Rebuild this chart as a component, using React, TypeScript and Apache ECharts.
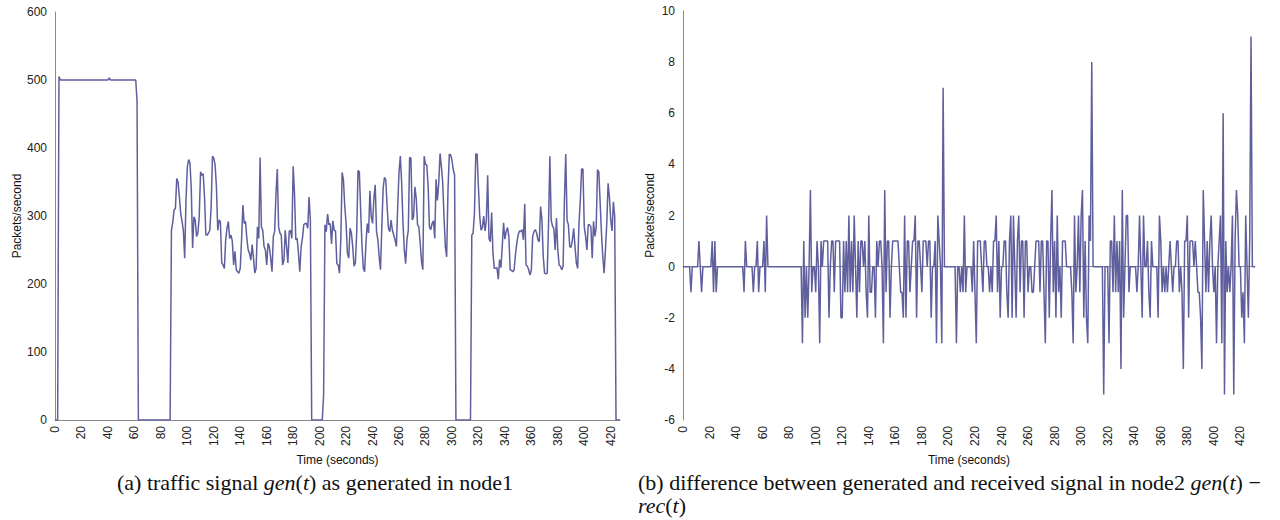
import React, { useEffect, useRef } from "react";
import * as echarts from "echarts";

// ---- (a) traffic signal gen(t), packets/second, one value per second ----
const genPhase1 = [
  0, 0, 0, 505,
  500, 500, 500, 500, 500, 500, 500, 500, 500, 500,
  500, 500, 500, 500, 500, 500, 500, 500, 500, 500,
  500, 500, 500, 500, 500, 500, 500, 500, 500, 500,
  500, 500, 500, 500, 500, 500, 500,
  503,
  500, 500, 500, 500, 500, 500, 500, 500, 500, 500,
  500, 500, 500, 500, 500, 500, 500, 500, 500, 500,
  470,
  0, 0, 0, 0, 0, 0, 0, 0, 0, 0, 0, 0, 0, 0, 0, 0, 0, 0, 0, 0, 0, 0, 0, 0, 0,
];
const genPhase2 = [
  279, 291, 309, 311, 355, 350, 328, 304, 292, 279,
  238, 324, 372, 383, 378, 340, 253, 299, 294, 270,
  275, 299, 365, 360, 362, 328, 272, 272, 275, 279,
  313, 388, 385, 375, 343, 279, 294, 292, 231, 228,
  223, 265, 282, 292, 267, 272, 263, 228, 248, 221,
  218, 216, 223, 265, 316, 289, 292, 267, 250, 245,
  235, 258, 238, 216, 223, 284, 267, 386, 284, 279,
  255, 250, 228, 260, 255, 238, 218, 270, 277, 333,
  369, 284, 275, 272, 228, 235, 279, 255, 231, 277,
  279, 267, 373, 333, 265, 267, 245, 218, 255, 267,
  287, 289, 289, 282, 328, 294,
];
const genGap2 = [0, 0, 0, 0, 0, 0, 0, 0, 0, 37];
const genPhase3 = [
  287, 277, 303, 287, 289, 259, 293, 279, 278, 230,
  228, 216, 265, 364, 353, 314, 289, 245, 238, 282,
  275, 255, 226, 231, 275, 367, 365, 309, 257, 223,
  218, 260, 289, 275, 337, 299, 289, 326, 346, 277,
  265, 240, 221, 284, 341, 357, 353, 314, 282, 277,
  294, 279, 272, 265, 255, 314, 365, 388, 348, 289,
  250, 230, 265, 279, 386, 385, 294, 299, 343, 326,
  287, 284, 260, 233, 221, 388, 376, 375, 343, 284,
  280, 289, 293, 267, 354, 323, 348, 392, 373, 350,
  299, 255, 240, 338, 391, 390, 382, 368, 360,
];
const genGap3 = [0, 0, 0, 0, 0, 0, 0, 0, 0, 0, 0, 0];
const genPhase4 = [
  272, 275, 304, 391, 391, 343, 299, 279, 283, 300,
  278, 294, 360, 267, 262, 305, 245, 223, 223, 224,
  207, 236, 224, 255, 290, 266, 277, 283, 270, 221,
  220, 218, 221, 243, 260, 272, 278, 277, 280, 265,
  318, 228, 226, 221, 213, 221, 270, 277, 280, 275,
  265, 262, 314, 294, 240, 216, 215, 216, 289, 388,
  294, 285, 282, 250, 297, 250, 228, 226, 221, 226,
  323, 391, 294, 287, 255, 254, 265, 282, 255, 231,
  223, 289, 323, 369, 369, 284, 270, 250, 287, 287,
  284, 238, 292, 270, 282, 368, 365, 319, 275, 240,
  216, 250, 289, 348, 328, 294, 278, 321, 300,
];
const genTail = [0, 0, 0, 0];

// ---- (b) gen(t) - rec(t) in node2 ----
const diffPart1 = [
  0, 0, 0, 0, 0, 0, -1, 0, 0, 0, 0, 0, 1, 0, -1, 0,
  0, 0, 0, 0, 0, 0, 1, -1, 1, -1,
  0, 0, 0, 0, 0, 0, 0, 0, 0, 0, 0, 0, 0, 0, 0, 0, 0, 0, 0, 0,
  -1, 1, 0, 0, 0, 0, 0, -1, 0, 0, 1, -1, 0, 0, 0, 1, -1, 2,
  0, 0, 0, 0, 0, 0, 0, 0, 0, 0, 0, 0, 0, 0, 0, 0, 0, 0, 0, 0, 0, 0, 0, 0, 0,
];
const diffPart2 = [
  0, -3, 1, -2, 0, -2, 0, 3, -1, 0,
  0, -1, 1, 0, -3, 1, 0, 1, 1, 1,
  1, -2, 0, 1, 1, -1, 1, 1, 1, 1,
  -2, -2, 1, -1, 1, -1, 2, -1, 1, -1,
  2, 0, -2, 1, -1, 1, 1, 0, 1, -1,
  -2, 2, -1, -1, 0, 0, -2, 1, 0, 1,
  1, 0, -3, 3, -1, 1, 1, -2, 0, 1,
  1, 1, 1, 1, 0, -1, -1, -2, 2, -2,
  1, 1, -1, 0, 1, 1, 2, -2, 1, 1,
  0, -1, 1, 1, 1, 0, 1, 1, -2, 0,
  0, 1, -3, 2, 1, 0, -3, 7,
];
const diffPart3 = [
  0, 0, 0, 0, 0, 0, 0, 0, 0, -3,
  0, 0, -1, 0, -1, 2, -1, 0, 0, 0,
  0, -1, 1, -1, -3, 1, 1, 1, 0, -1,
  1, 1, 0, 0, -1, 0, -1, 1, 1, 2,
  -1, 1, -2, 0, 0, 1, 1, -1, -2, 1,
  2, -2, 2, 0, -2, 1, 2, -1, 1, 1,
  -2, 1, 1, -1, 0, 0, -1, -1, 0, 1,
  1, 1, -1, 1, 1, -1, -3, 1, 1, -2,
  1, 3, -1, 1, -2, 2, -1, 0, -2, 1,
  1, 1, 0, 0, 0, 0, -1, -3, 2, -1,
  0, 2, -1, 2, 3, -2, 1, -2, -3, 2,
  1, 8,
];
const diffPart4 = [
  0, 0, 0, 0, 0, 0, 0, 0, -5, 0,
  0, 0, -3, 1, 1, -1, 2, -1, 1, -1,
  1, -4, 3, -2, 0, 2, 2, -1, 0, 0,
  0, 0, 0, -1, 0, 2, 0, -2, 2, 0,
  0, 1, -1, -2, 1, 0, 0, 0, 0, -2,
  2, 1, -1, 0, -1, 0, -1, 0, 1, 0,
  -1, 0, 0, 1, 1, -1, 0, -1, -4, 1,
  1, 2, -2, 1, 1, 1, 0, 1, 0, -1,
  -1, -2, -4, 3, 1, -1, 1, -1, 1, 2,
  0, -1, 0, -3, 0, 1, 2, -3, 6, -5,
  1, -1, 0, -1, 0, 2, -5, 1, 3, 2,
  0, 0, -2, -1, -3, 2, 0, -2, 1, 9,
  0, 0, 0,
];

const genValues = [
  ...genPhase1, ...genPhase2, ...genGap2, ...genPhase3, ...genGap3, ...genPhase4, ...genTail,
];
const diffValues = [...diffPart1, ...diffPart2, ...diffPart3, ...diffPart4];
const genSeconds = genValues.map((_, i) => String(i));
const diffSeconds = diffValues.map((_, i) => String(i));

const LINE_COLOR = "#5f5f9e";
const AXIS_COLOR = "#8c8c8c";
const SANS = "Liberation Sans";
const SERIF = "Liberation Serif";

export default function App() {
  const ref = useRef<HTMLDivElement>(null);

  useEffect(() => {
    const chart = echarts.init(ref.current as HTMLDivElement, null, { renderer: "svg" });

    const xAxisBase = (gridIndex: number, data: string[]) => ({
      type: "category",
      gridIndex,
      data,
      boundaryGap: false,
      axisLine: { show: true, lineStyle: { color: AXIS_COLOR, width: 1 } },
      axisTick: { show: false },
      splitLine: { show: false },
      axisLabel: {
        interval: 19,
        rotate: 90,
        fontSize: 12,
        color: "#222",
        fontFamily: SANS,
        margin: 6,
      },
      name: "Time (seconds)",
      nameLocation: "middle",
      nameGap: 33,
      nameTextStyle: { fontSize: 12, color: "#111", fontFamily: SANS },
    });

    const yAxisBase = (gridIndex: number, min: number, max: number, interval: number, nameGap: number) => ({
      type: "value",
      gridIndex,
      min,
      max,
      interval,
      axisLine: { show: true, lineStyle: { color: AXIS_COLOR, width: 1 } },
      axisTick: { show: false },
      splitLine: { show: false },
      axisLabel: { fontSize: 12, color: "#222", fontFamily: SANS, margin: 8 },
      name: "Packets/second",
      nameLocation: "middle",
      nameGap,
      nameRotate: 90,
      nameTextStyle: { fontSize: 12, color: "#111", fontFamily: SANS },
    });

    const rich = {
      n: { fontFamily: SERIF, fontWeight: "normal", fontSize: 22, color: "#111", lineHeight: 23 },
      i: {
        fontFamily: SERIF,
        fontStyle: "italic",
        fontWeight: "normal",
        fontSize: 22,
        color: "#111",
        lineHeight: 23,
      },
    };

    chart.setOption({
      animation: false,
      backgroundColor: "#ffffff",
      title: [
        {
          text: "{n|(a) traffic signal }{i|gen}{n|(}{i|t}{n|) as generated in node1}",
          left: 117,
          top: 471,
          padding: 0,
          textStyle: { fontWeight: "normal", rich },
        },
        {
          text:
            "{n|(b) difference between generated and received signal in node2 }{i|gen}{n|(}{i|t}{n|) −}\n{i|rec}{n|(}{i|t}{n|)}",
          left: 638,
          top: 471,
          padding: 0,
          textStyle: { fontWeight: "normal", rich },
        },
      ],
      grid: [
        { left: 55, top: 12, width: 565, height: 408 },
        { left: 683, top: 11, width: 572, height: 409 },
      ],
      xAxis: [xAxisBase(0, genSeconds), xAxisBase(1, diffSeconds)],
      yAxis: [yAxisBase(0, 0, 600, 100, 31), yAxisBase(1, -6, 10, 2, 27)],
      series: [
        {
          type: "line",
          xAxisIndex: 0,
          yAxisIndex: 0,
          data: genValues,
          showSymbol: false,
          symbol: "none",
          lineStyle: { color: LINE_COLOR, width: 1.5 },
          itemStyle: { color: LINE_COLOR },
        },
        {
          type: "line",
          xAxisIndex: 1,
          yAxisIndex: 1,
          data: diffValues,
          showSymbol: false,
          symbol: "none",
          lineStyle: { color: LINE_COLOR, width: 1.5 },
          itemStyle: { color: LINE_COLOR },
        },
      ],
    });

    return () => chart.dispose();
  }, []);

  return (
    <div
      ref={ref}
      style={{ position: "fixed", left: 0, top: 0, width: 1280, height: 520, background: "#fff" }}
    />
  );
}
